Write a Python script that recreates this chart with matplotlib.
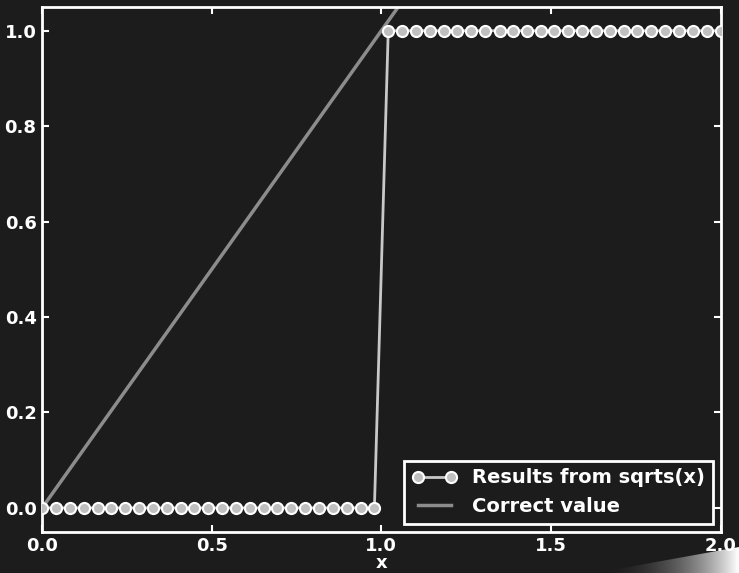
import numpy as np
import matplotlib
matplotlib.use('Agg')
import matplotlib.pyplot as plt
from matplotlib.patches import Polygon

# sample points and the values returned by sqrts(x)
x_vals = [0.0, 0.0408, 0.0816, 0.1224, 0.1633, 0.2041, 0.2449, 0.2857, 0.3265, 0.3673,
          0.4082, 0.449, 0.4898, 0.5306, 0.5714, 0.6122, 0.6531, 0.6939, 0.7347, 0.7755,
          0.8163, 0.8571, 0.898, 0.9388, 0.9796, 1.0204, 1.0612, 1.102, 1.1429, 1.1837,
          1.2245, 1.2653, 1.3061, 1.349, 1.3878, 1.4286, 1.4694, 1.5102, 1.551, 1.5918,
          1.6327, 1.6735, 1.7143, 1.7551, 1.7959, 1.8367, 1.8776, 1.9184, 1.9592, 2.0]
sqrts_vals = [0.0] * 25 + [1.0] * 25
correct_x = [0.0, 2.0]
correct_y = [0.0, 2.0]

bg = '#1c1c1c'
plt.rcParams['font.family'] = ['DejaVu Sans']

fig = plt.figure(figsize=(7.39, 5.73), dpi=100, facecolor=bg)

# page-curl shadow in the bottom right corner (behind everything else)
sh = fig.add_axes([0, 0, 1, 1], zorder=-1)
sh.set_axis_off()
sh.set_xlim(0, 739)
sh.set_ylim(573, 0)
grad = np.linspace(0, 1, 256).reshape(1, -1) ** 2.2
img = sh.imshow(grad, extent=(595, 739, 573, 547), cmap='gray', vmin=-0.12, vmax=1,
                aspect='auto')
tri = Polygon([(595, 573), (739, 573), (739, 547)], closed=True, transform=sh.transData)
img.set_clip_path(tri)

ax = fig.add_axes([0.057, 0.072, 0.918, 0.916], facecolor=bg)

ax.plot(x_vals, sqrts_vals, '-o', color='#c8c8c8', lw=2, ms=8,
        mfc='#c0c0c0', mec='white', mew=1.5, label='Results from sqrts(x)', zorder=3)
ax.plot(correct_x, correct_y, '-', color='#8c8c8c', lw=2.5, label='Correct value', zorder=2)

ax.set_xlim(0, 2)
ax.set_ylim(-0.05, 1.05)
ax.set_xticks([0.0, 0.5, 1.0, 1.5, 2.0])
ax.set_yticks([0.0, 0.2, 0.4, 0.6, 0.8, 1.0])

for s in ax.spines.values():
    s.set_color('white')
    s.set_linewidth(2)
ax.tick_params(direction='in', top=True, right=True, colors='white', width=1.5, length=5,
               labelsize=13, pad=4)
for lab in ax.get_xticklabels() + ax.get_yticklabels():
    lab.set_fontweight('bold')
ax.set_xlabel('x', color='white', fontsize=13, fontweight='bold', labelpad=-1)

leg = ax.legend(loc='lower right', numpoints=2, facecolor=bg, edgecolor='white',
                prop={'size': 14, 'weight': 'bold'}, handlelength=2.3,
                fancybox=False, framealpha=1, borderaxespad=0.4)
leg.get_frame().set_linewidth(2)
for t in leg.get_texts():
    t.set_color('white')

fig.savefig('out.png', dpi=100, facecolor=bg)
